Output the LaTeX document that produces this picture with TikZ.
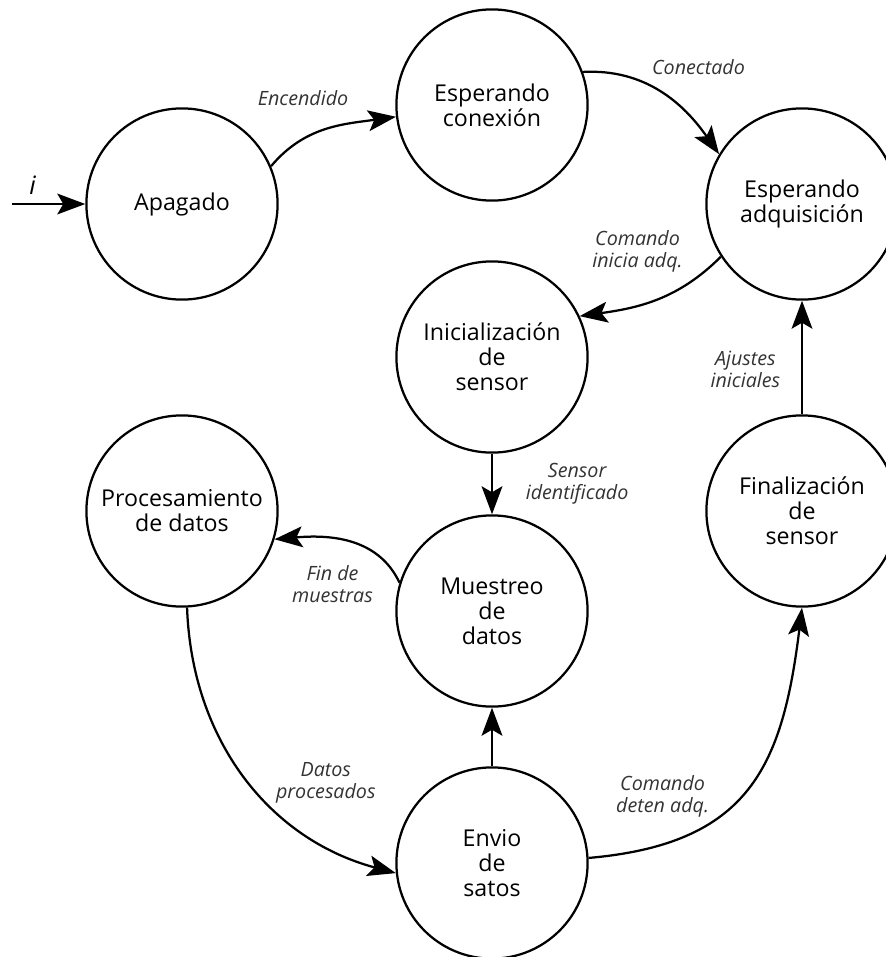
\documentclass[tikz,border=0pt]{standalone}
\usepackage{fontspec}
\setmainfont{Open Sans}
\usepackage{tikz}
\usetikzlibrary{positioning}
\usetikzlibrary{shapes,arrows.meta}
\tikzstyle{state} = [circle, draw, line width=1.6pt, minimum size=4.78cm, inner sep=0pt,
    align=center, font=\fontsize{16.5}{17.8}\selectfont]
\tikzstyle{cond} = [align=center, text=black!80, font=\fontsize{14}{15.6}\selectfont\itshape]
\tikzstyle{arrow} = [line width=1.6pt,-{Stealth[length=7mm,width=5.2mm,inset=1.5mm]}]

\begin{document}
\begin{tikzpicture}[node distance = 7.75cm]
\useasboundingbox (0,0) rectangle (22.15,-23.925);

\node (Apagado) [state] at (4.55,-5.1) {Apagado};
\node (EspCon) [state, right of=Apagado, yshift=2.475cm] {Esperando\\conexión};
\node (EspAdq) [state, right of=EspCon, yshift=-2.475cm] {Esperando\\adquisición};
\node (IniSen) [state, below of=EspCon, yshift=1.45cm] {Inicialización\\de\\sensor};
\node (Muestreo) [state, below of=IniSen, yshift=1.4cm] {Muestreo\\de\\datos};
\node (Proc) [state, left of=Muestreo, yshift=2.5cm] {Procesamiento\\de datos};
\node (FinSen) [state, right of=Muestreo, yshift=2.5cm] {Finalización\\de\\sensor};
\node (Envio) [state, below of=Muestreo, yshift=1.45cm] {Envio\\de\\satos};
\node[coordinate] (inicio) [left of=Apagado, xshift=3.5cm] {};

\draw [arrow] (inicio) -- node[cond, pos=0.28, anchor=south, yshift=1mm, text=black, font=\fontsize{18}{18}\selectfont\itshape] {i} (Apagado);
\draw [arrow] (Apagado.23) to[out=50,in=188] node[cond, pos=0.3, anchor=south, yshift=7mm] {Encendido} (EspCon.187);
\draw [arrow] (EspCon.20) to[out=3,in=125] node[cond, pos=0.45, above right, xshift=-2mm, yshift=2mm] {Conectado} (EspAdq.149);
\draw [arrow] (EspAdq.213) to[out=225,in=8] node[cond, pos=0.35, above left, xshift=3mm, yshift=3mm] {Comando\\inicia adq.} (IniSen.25);
\draw [arrow] (IniSen) -- node[cond, right=7mm] {Sensor\\identificado} (Muestreo);
\draw [arrow] (Muestreo.163) to[out=115,in=5] node[cond, pos=0.45, below left, xshift=6mm, yshift=-4mm] {Fin de\\muestras} (Proc.343);
\draw [arrow] (Proc.273) to[out=272,in=165] node[cond, pos=1, xshift=-1.75cm, yshift=2.25cm] {Datos\\procesados} (Envio.186);
\draw [arrow] (Envio) -- (Muestreo);
\draw [arrow] (Envio.3) to[out=5,in=263,looseness=1.25] node[cond, pos=0, xshift=1.85cm, yshift=1.55cm] {Comando\\deten adq.} (FinSen.270);
\draw [arrow] (FinSen) -- node[cond, left=4mm, yshift=-3mm] {Ajustes\\iniciales} (EspAdq);
\end{tikzpicture}
\end{document}
